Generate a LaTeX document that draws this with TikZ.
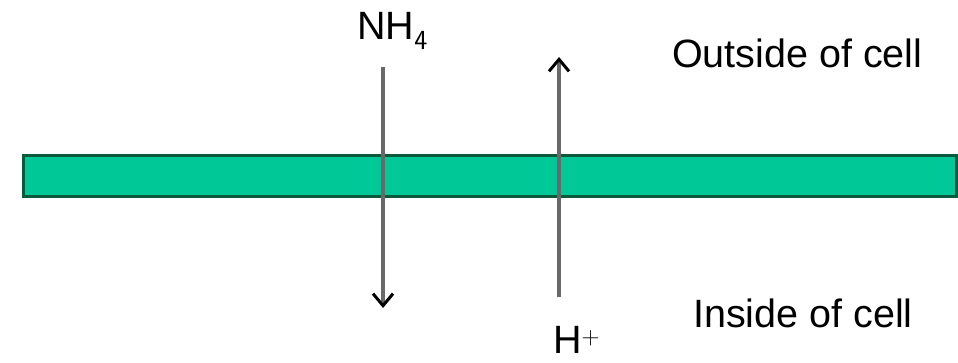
\documentclass[tikz,border=0pt]{standalone}
\usepackage{fontspec}
\setmainfont{Liberation Sans}
\usetikzlibrary{arrows.meta}
\definecolor{memfill}{RGB}{0,200,150}
\definecolor{memdraw}{RGB}{12,90,62}
\definecolor{shaft}{RGB}{105,105,105}
\tikzset{
  lbl/.style={inner sep=0pt, anchor=base west, font=\fontsize{39.5}{46}\selectfont},
  flux/.style={draw=shaft, line width=3.6pt, -{Straight Barb[length=12pt,width=20pt,line width=3pt,color=black]}},
  membrane/.style={fill=memfill, draw=memdraw, line width=2.5pt}
}
\begin{document}
\begin{tikzpicture}[x=1pt,y=1pt]
\useasboundingbox (0,0) rectangle (958,363);
\node[membrane, minimum width=933pt, minimum height=41pt, inner sep=0pt, anchor=south west] (mem) at (22,165) {};
\node[lbl] (out) at (672,295) {Outside of cell};
\node[lbl] (in) at (693,35) {Inside of cell};
\node[lbl] (nh4) at (357,323) {NH$_{\mathsf{4}}$};
\node[lbl] (hplus) at (553,9) {H$^{\scriptstyle +}$};
\coordinate (nhA) at (383,296);
\coordinate (nhB) at (383,55);
\coordinate (hA) at (559,66);
\coordinate (hB) at (559,306);
\draw[flux] (nhA) -- (nhB);
\draw[flux] (hA) -- (hB);
\end{tikzpicture}
\end{document}
